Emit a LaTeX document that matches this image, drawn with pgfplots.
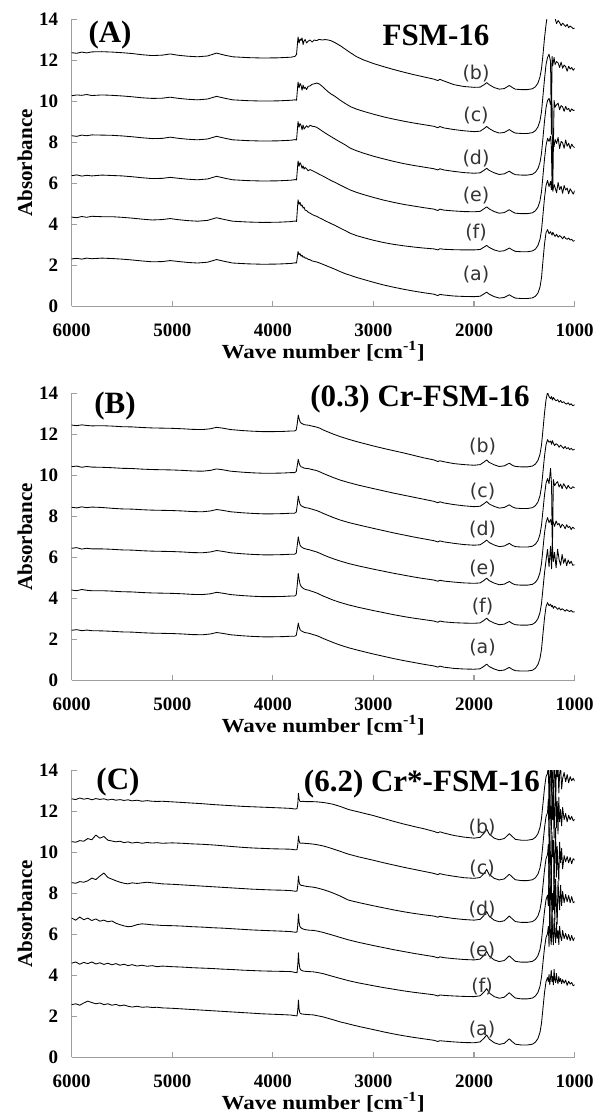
\documentclass[border=0pt]{standalone}
\usepackage{fontspec}
\setmainfont{Liberation Serif}
\newfontfamily\widefont{Liberation Serif}[FakeStretch=1.15]
\newfontfamily\curvefont{DejaVu Sans}
\usepackage{pgfplots}
\usepackage{pgfplotstable}
\pgfplotsset{compat=1.18}

% panel A: FSM-16
\pgfplotstableread{
W b c d e f a
6000 12.38 10.28 8.33 6.38 4.36 2.32
5950 12.35 10.32 8.30 6.42 4.33 2.35
5900 12.41 10.30 8.36 6.36 4.39 2.31
5850 12.37 10.34 8.33 6.40 4.35 2.36
5800 12.42 10.29 8.37 6.37 4.40 2.33
5700 12.43 10.32 8.36 6.41 4.38 2.36
5600 12.41 10.30 8.35 6.39 4.38 2.34
5500 12.38 10.27 8.32 6.37 4.35 2.31
5400 12.34 10.23 8.28 6.33 4.31 2.27
5300 12.28 10.18 8.23 6.28 4.26 2.22
5200 12.24 10.15 8.19 6.24 4.22 2.18
5100 12.26 10.16 8.20 6.25 4.24 2.19
5020 12.32 10.21 8.26 6.30 4.29 2.24
4950 12.26 10.16 8.21 6.26 4.24 2.20
4850 12.21 10.11 8.16 6.21 4.19 2.15
4750 12.18 10.08 8.13 6.18 4.16 2.12
4650 12.22 10.12 8.17 6.22 4.20 2.16
4560 12.36 10.25 8.30 6.35 4.33 2.29
4480 12.26 10.16 8.21 6.26 4.24 2.20
4400 12.18 10.08 8.13 6.18 4.16 2.12
4250 12.14 10.04 8.09 6.14 4.12 2.08
4100 12.12 10.02 8.07 6.12 4.10 2.06
3950 12.13 10.03 8.08 6.13 4.11 2.07
3820 12.16 10.06 8.11 6.16 4.14 2.10
3780 12.20 10.08 8.14 6.19 4.17 2.13
3765 12.30 10.06 8.12 6.17 4.15 2.12
3750 13.15 10.95 9.02 7.10 5.20 2.68
3740 12.85 10.66 8.75 6.84 4.98 2.52
3730 13.05 10.88 8.92 7.02 5.08 2.58
3720 12.98 10.78 8.84 6.92 4.90 2.45
3710 13.10 10.55 8.62 6.74 4.95 2.50
3700 12.78 10.80 8.85 6.86 4.80 2.40
3690 12.95 10.62 8.66 6.70 4.84 2.43
3680 13.02 10.70 8.72 6.78 4.70 2.36
3665 12.86 10.58 8.82 6.72 4.68 2.36
3650 12.94 10.74 8.74 6.62 4.60 2.30
3630 13.00 10.76 8.84 6.68 4.55 2.28
3610 12.90 10.84 8.79 6.63 4.49 2.22
3590 13.00 10.86 8.78 6.58 4.44 2.20
3565 12.97 10.90 8.74 6.52 4.40 2.17
3540 13.03 10.86 8.66 6.45 4.33 2.13
3510 13.00 10.74 8.56 6.38 4.26 2.07
3480 13.02 10.60 8.46 6.30 4.18 2.01
3450 13.00 10.47 8.37 6.22 4.11 1.95
3420 12.96 10.36 8.28 6.14 4.04 1.89
3380 12.86 10.24 8.16 6.05 3.95 1.81
3330 12.72 10.06 8.02 5.92 3.82 1.70
3280 12.55 9.90 7.88 5.80 3.70 1.60
3230 12.38 9.75 7.72 5.68 3.57 1.52
3170 12.19 9.63 7.60 5.57 3.46 1.42
3100 12.03 9.52 7.48 5.46 3.36 1.32
3000 11.85 9.38 7.33 5.32 3.23 1.18
2900 11.70 9.25 7.20 5.19 3.12 1.05
2800 11.56 9.14 7.08 5.08 3.03 0.94
2700 11.43 9.04 6.97 4.98 2.96 0.84
2600 11.31 8.95 6.88 4.90 2.90 0.75
2500 11.20 8.87 6.80 4.82 2.85 0.67
2400 11.09 8.79 6.72 4.75 2.81 0.60
2360 11.02 8.72 6.66 4.68 2.76 0.53
2340 11.08 8.78 6.72 4.75 2.82 0.59
2300 11.00 8.71 6.66 4.70 2.79 0.56
2200 10.82 8.63 6.59 4.66 2.77 0.51
2100 10.73 8.57 6.53 4.63 2.76 0.49
2000 10.69 8.53 6.50 4.62 2.76 0.48
1940 10.70 8.55 6.52 4.64 2.78 0.50
1900 10.82 8.68 6.65 4.77 2.90 0.62
1875 10.92 8.78 6.74 4.86 2.98 0.70
1850 10.82 8.68 6.64 4.76 2.88 0.60
1800 10.68 8.54 6.52 4.63 2.76 0.48
1750 10.60 8.46 6.44 4.55 2.69 0.41
1700 10.63 8.49 6.47 4.58 2.72 0.44
1650 10.78 8.63 6.60 4.72 2.85 0.57
1620 10.68 8.53 6.50 4.62 2.76 0.48
1590 10.60 8.46 6.43 4.55 2.69 0.41
1530 10.58 8.44 6.41 4.53 2.67 0.39
1470 10.58 8.44 6.41 4.53 2.67 0.39
1420 10.62 8.48 6.45 4.57 2.71 0.42
1390 10.72 8.58 6.55 4.67 2.80 0.50
1365 10.90 8.76 6.73 4.85 2.98 0.66
1345 11.20 9.06 7.03 5.15 3.28 0.95
1330 11.60 9.50 7.47 5.60 3.72 1.40
1315 12.30 10.30 8.25 6.40 4.50 2.25
1300 13.10 11.10 9.05 7.20 5.30 3.05
1285 13.75 11.80 9.70 7.85 5.90 3.60
1270 14.25 12.15 10.05 8.20 6.15 3.75
1255 14.35 12.30 10.15 8.05 5.85 3.55
1240 14.30 11.95 9.85 8.30 6.10 3.65
1232 14.20 8.40 10.10 7.80 5.70 3.55
1225 14.25 12.20 9.75 6.00 6.20 3.48
1218 14.15 11.75 5.70 8.35 5.62 3.62
1205 14.10 12.15 10.05 7.80 5.95 3.50
1195 14.05 11.80 9.72 8.15 5.80 3.42
1180 13.80 11.95 9.85 7.95 5.55 3.52
1165 13.95 11.88 9.92 8.25 6.05 3.38
1150 13.85 11.66 9.60 7.70 5.70 3.46
1135 13.70 11.92 9.80 8.05 5.86 3.40
1120 13.82 11.62 9.74 7.98 5.52 3.30
1105 13.74 11.78 9.52 7.72 5.90 3.42
1090 13.66 11.70 9.76 8.12 5.68 3.32
1075 13.76 11.48 9.60 7.82 5.78 3.28
1060 13.60 11.72 9.66 7.96 5.50 3.34
1045 13.68 11.58 9.50 7.70 5.74 3.24
1030 13.62 11.66 9.64 7.92 5.62 3.28
1015 13.55 11.52 9.56 7.80 5.48 3.18
1000 13.58 11.62 9.58 7.75 5.65 3.22
}\spectraA

% panel B: (0.3) Cr-FSM-16
\pgfplotstableread{
W b c d e f a
6000 12.46 10.43 8.45 6.45 4.41 2.45
5950 12.43 10.46 8.42 6.48 4.38 2.48
5900 12.47 10.40 8.47 6.41 4.44 2.43
5850 12.44 10.44 8.43 6.45 4.40 2.46
5800 12.42 10.41 8.46 6.42 4.38 2.43
5700 12.43 10.40 8.44 6.42 4.38 2.42
5600 12.41 10.38 8.40 6.40 4.36 2.40
5500 12.38 10.35 8.37 6.37 4.33 2.37
5400 12.37 10.34 8.36 6.36 4.32 2.36
5300 12.34 10.31 8.33 6.33 4.29 2.33
5200 12.32 10.29 8.31 6.31 4.27 2.31
5100 12.31 10.28 8.30 6.30 4.26 2.30
5000 12.30 10.27 8.29 6.29 4.25 2.29
4900 12.28 10.25 8.27 6.27 4.23 2.27
4800 12.25 10.22 8.24 6.24 4.20 2.24
4700 12.24 10.21 8.23 6.23 4.19 2.23
4620 12.28 10.25 8.27 6.27 4.23 2.27
4560 12.35 10.32 8.34 6.34 4.30 2.34
4500 12.31 10.28 8.30 6.30 4.26 2.30
4420 12.24 10.21 8.23 6.23 4.19 2.23
4300 12.19 10.16 8.18 6.18 4.14 2.18
4200 12.16 10.13 8.15 6.15 4.11 2.15
4100 12.14 10.11 8.13 6.13 4.09 2.13
4000 12.14 10.11 8.13 6.13 4.09 2.13
3900 12.15 10.12 8.14 6.14 4.10 2.14
3820 12.17 10.14 8.16 6.16 4.12 2.16
3785 12.17 10.14 8.16 6.16 4.12 2.16
3768 12.22 10.19 8.21 6.21 4.18 2.20
3757 12.55 10.50 8.58 6.62 4.70 2.50
3748 12.95 10.79 9.00 7.01 5.23 2.80
3740 12.78 10.62 8.78 6.80 4.95 2.62
3730 12.62 10.48 8.60 6.60 4.70 2.48
3718 12.55 10.42 8.52 6.52 4.58 2.42
3705 12.52 10.40 8.49 6.48 4.52 2.39
3690 12.48 10.36 8.45 6.44 4.47 2.35
3675 12.47 10.35 8.43 6.42 4.44 2.33
3660 12.46 10.34 8.42 6.40 4.42 2.32
3640 12.45 10.33 8.40 6.38 4.40 2.30
3620 12.42 10.30 8.37 6.35 4.36 2.27
3600 12.40 10.28 8.34 6.32 4.33 2.24
3565 12.36 10.24 8.29 6.27 4.27 2.19
3530 12.30 10.17 8.22 6.20 4.19 2.12
3500 12.22 10.10 8.15 6.13 4.12 2.05
3450 12.12 10.00 8.05 6.03 4.02 1.95
3400 12.02 9.90 7.95 5.94 3.92 1.85
3333 11.90 9.78 7.83 5.83 3.81 1.73
3250 11.77 9.66 7.71 5.71 3.69 1.60
3150 11.63 9.53 7.59 5.59 3.57 1.47
3000 11.44 9.36 7.42 5.43 3.41 1.29
2900 11.32 9.25 7.31 5.33 3.31 1.18
2800 11.21 9.14 7.20 5.23 3.21 1.07
2700 11.10 9.04 7.10 5.14 3.12 0.97
2600 10.98 8.94 7.00 5.05 3.04 0.88
2500 10.86 8.84 6.91 4.97 2.97 0.79
2400 10.76 8.74 6.82 4.90 2.90 0.71
2360 10.68 8.67 6.76 4.84 2.84 0.65
2340 10.72 8.72 6.81 4.89 2.90 0.70
2300 10.67 8.66 6.76 4.85 2.86 0.65
2200 10.58 8.58 6.69 4.80 2.82 0.59
2100 10.53 8.52 6.63 4.76 2.80 0.56
2000 10.50 8.48 6.60 4.74 2.79 0.55
1940 10.53 8.50 6.62 4.76 2.81 0.57
1900 10.66 8.63 6.75 4.89 2.94 0.70
1875 10.76 8.73 6.85 4.99 3.04 0.80
1850 10.64 8.61 6.73 4.87 2.92 0.68
1800 10.52 8.49 6.61 4.75 2.80 0.56
1750 10.44 8.41 6.53 4.67 2.72 0.48
1700 10.47 8.44 6.56 4.70 2.75 0.51
1650 10.60 8.57 6.69 4.83 2.88 0.64
1620 10.50 8.47 6.59 4.73 2.78 0.54
1590 10.44 8.41 6.53 4.67 2.72 0.48
1530 10.42 8.39 6.51 4.65 2.70 0.46
1470 10.42 8.39 6.51 4.65 2.70 0.46
1420 10.46 8.43 6.55 4.69 2.74 0.50
1390 10.56 8.53 6.65 4.79 2.84 0.60
1365 10.74 8.71 6.83 4.97 3.02 0.78
1345 11.04 9.01 7.13 5.27 3.32 1.08
1330 11.48 9.45 7.57 5.71 3.76 1.52
1315 12.25 10.20 8.32 6.46 4.50 2.30
1300 13.05 10.95 9.05 7.20 5.25 3.05
1285 13.70 11.50 9.62 7.70 5.85 3.60
1270 14.05 11.75 9.85 7.95 6.40 3.80
1255 13.85 11.62 9.60 7.70 5.55 3.65
1240 13.75 11.68 10.35 7.85 6.55 3.72
1230 13.85 11.52 9.55 7.60 5.45 3.60
1222 13.68 11.70 6.20 7.92 6.70 3.66
1212 13.80 11.58 9.80 7.70 5.80 3.52
1200 13.72 11.46 9.50 7.52 6.25 3.62
1185 13.64 11.55 9.62 7.78 5.50 3.56
1170 13.70 11.50 9.70 7.60 6.40 3.47
1155 13.58 11.38 9.44 7.66 5.90 3.55
1140 13.66 11.48 9.58 7.45 5.62 3.44
1125 13.55 11.40 9.36 7.62 6.15 3.50
1110 13.60 11.32 9.60 7.55 5.72 3.45
1095 13.52 11.42 9.48 7.40 5.95 3.38
1080 13.48 11.30 9.34 7.60 5.60 3.46
1065 13.55 11.36 9.52 7.46 5.88 3.40
1050 13.44 11.26 9.40 7.52 5.70 3.36
1035 13.50 11.33 9.36 7.36 5.82 3.42
1020 13.40 11.24 9.45 7.48 5.62 3.34
1000 13.45 11.28 9.40 7.40 5.65 3.35
}\spectraB

% panel C: (6.2) Cr*-FSM-16
\pgfplotstableread{
W b c d e f a
6000 12.62 10.53 8.53 6.80 4.60 2.58
5960 12.58 10.50 8.50 6.70 4.66 2.62
5920 12.66 10.58 8.58 6.85 4.55 2.55
5880 12.60 10.55 8.55 6.72 4.64 2.66
5840 12.64 10.68 8.62 6.80 4.58 2.75
5800 12.57 10.62 8.75 6.68 4.66 2.68
5760 12.63 10.85 8.68 6.76 4.56 2.62
5720 12.59 10.70 8.85 6.65 4.62 2.66
5680 12.62 10.78 9.00 6.70 4.54 2.58
5640 12.56 10.60 8.78 6.62 4.60 2.62
5600 12.60 10.56 8.70 6.66 4.52 2.55
5560 12.55 10.52 8.62 6.55 4.58 2.59
5520 12.58 10.55 8.55 6.48 4.50 2.52
5480 12.54 10.48 8.50 6.42 4.55 2.56
5440 12.57 10.52 8.47 6.38 4.48 2.50
5400 12.52 10.46 8.52 6.40 4.53 2.46
5350 12.55 10.50 8.49 6.48 4.46 2.50
5300 12.50 10.45 8.52 6.52 4.50 2.45
5250 12.53 10.49 8.55 6.50 4.45 2.47
5200 12.50 10.46 8.52 6.47 4.48 2.44
5150 12.49 10.48 8.50 6.46 4.43 2.45
5100 12.50 10.45 8.47 6.44 4.46 2.42
5000 12.47 10.47 8.45 6.43 4.43 2.40
4900 12.44 10.45 8.42 6.41 4.41 2.37
4800 12.41 10.42 8.39 6.38 4.38 2.34
4700 12.38 10.40 8.36 6.36 4.36 2.31
4600 12.34 10.37 8.33 6.33 4.34 2.28
4500 12.31 10.33 8.30 6.31 4.31 2.25
4400 12.28 10.29 8.27 6.28 4.29 2.22
4300 12.25 10.25 8.24 6.25 4.26 2.19
4200 12.23 10.22 8.21 6.22 4.24 2.16
4100 12.21 10.20 8.19 6.20 4.22 2.13
4000 12.19 10.18 8.17 6.18 4.21 2.11
3900 12.17 10.17 8.16 6.16 4.20 2.09
3820 12.15 10.16 8.14 6.14 4.19 2.07
3780 12.12 10.13 8.11 6.11 4.15 2.04
3760 12.14 10.14 8.12 6.12 4.14 2.03
3752 12.40 10.40 8.42 6.50 4.55 2.35
3746 12.89 10.80 8.85 7.00 5.11 2.80
3740 12.62 10.58 8.58 6.62 4.62 2.38
3732 12.50 10.46 8.44 6.40 4.35 2.18
3720 12.48 10.45 8.40 6.32 4.26 2.13
3705 12.50 10.46 8.39 6.28 4.23 2.12
3690 12.49 10.45 8.37 6.25 4.21 2.11
3670 12.48 10.44 8.35 6.23 4.20 2.10
3640 12.48 10.43 8.33 6.21 4.19 2.09
3600 12.48 10.41 8.31 6.20 4.18 2.08
3560 12.47 10.38 8.27 6.17 4.15 2.04
3500 12.44 10.32 8.19 6.10 4.09 1.98
3450 12.40 10.25 8.11 6.03 4.02 1.91
3400 12.35 10.17 8.02 5.96 3.95 1.84
3333 12.25 10.06 7.88 5.86 3.86 1.74
3250 12.10 9.92 7.68 5.74 3.75 1.64
3150 11.98 9.79 7.56 5.62 3.64 1.52
3000 11.80 9.62 7.40 5.46 3.50 1.36
2900 11.66 9.50 7.30 5.36 3.41 1.25
2800 11.52 9.39 7.20 5.26 3.33 1.15
2700 11.39 9.28 7.11 5.17 3.25 1.06
2600 11.27 9.18 7.03 5.08 3.18 0.98
2500 11.16 9.08 6.96 5.00 3.12 0.91
2400 11.03 8.98 6.90 4.92 3.06 0.84
2360 10.96 8.92 6.84 4.86 3.00 0.78
2340 11.01 8.97 6.89 4.91 3.05 0.82
2300 10.95 8.92 6.85 4.87 3.03 0.80
2200 10.83 8.84 6.78 4.82 3.00 0.76
2100 10.75 8.77 6.73 4.78 2.98 0.73
2000 10.70 8.74 6.70 4.76 2.97 0.72
1940 10.74 8.78 6.74 4.80 3.01 0.76
1900 10.95 8.98 6.94 5.00 3.20 0.95
1875 11.15 9.17 7.12 5.18 3.36 1.10
1850 10.90 8.93 6.89 4.95 3.15 0.90
1800 10.70 8.74 6.70 4.76 2.97 0.72
1750 10.62 8.66 6.62 4.68 2.89 0.64
1700 10.68 8.71 6.67 4.73 2.94 0.69
1650 10.92 8.94 6.90 4.96 3.16 0.91
1620 10.78 8.80 6.76 4.82 3.02 0.77
1590 10.64 8.67 6.63 4.69 2.90 0.65
1530 10.60 8.63 6.59 4.65 2.86 0.61
1470 10.60 8.63 6.59 4.65 2.86 0.61
1420 10.64 8.67 6.63 4.69 2.90 0.65
1390 10.74 8.77 6.73 4.79 3.00 0.75
1365 10.92 8.95 6.91 4.97 3.18 0.93
1345 11.22 9.25 7.21 5.27 3.48 1.23
1330 11.66 9.69 7.65 5.71 3.92 1.67
1315 12.40 10.45 8.40 6.45 4.65 2.42
1300 13.15 11.20 9.15 7.15 5.35 3.17
1285 13.70 11.75 9.70 7.70 5.85 3.70
1270 13.85 11.95 9.90 7.92 6.05 3.90
1262 14.50 12.60 10.40 7.40 6.40 3.70
1255 12.10 10.40 8.40 9.50 5.40 4.05
1248 13.60 13.50 11.20 6.40 7.10 3.55
1240 14.60 11.80 9.60 8.20 5.90 3.90
1233 12.80 10.90 8.30 9.20 5.50 4.25
1226 14.50 13.20 11.00 6.20 6.90 3.70
1219 13.40 11.60 9.80 8.00 6.00 3.95
1212 12.60 12.80 10.60 7.20 5.50 3.55
1205 14.60 10.70 8.50 9.40 6.80 4.30
1198 13.90 12.20 9.90 6.60 6.10 3.80
1190 12.40 13.30 11.20 8.70 5.60 3.65
1182 14.30 11.20 8.80 7.40 6.60 4.10
1174 13.70 12.50 10.30 6.50 5.80 3.75
1166 14.40 10.90 9.30 8.60 6.20 3.60
1158 12.90 12.70 8.60 7.90 5.50 3.95
1150 13.80 11.50 10.50 7.20 6.40 3.70
1140 14.20 12.10 9.50 8.40 5.90 3.85
1130 13.10 11.30 10.20 7.40 5.70 3.60
1120 13.60 12.20 9.20 8.10 6.20 3.80
1105 13.90 11.60 9.85 7.55 5.80 3.62
1090 13.45 11.90 9.55 7.95 6.05 3.78
1075 13.80 11.50 9.80 7.60 5.75 3.52
1060 13.40 11.82 9.50 7.90 6.00 3.72
1045 13.70 11.60 9.76 7.55 5.70 3.58
1030 13.50 11.76 9.45 7.85 5.95 3.66
1015 13.62 11.55 9.70 7.55 5.70 3.50
1000 13.48 11.62 9.62 7.60 5.85 3.55
}\spectraC

\pgfplotsset{
  irpanel/.style={
    scale only axis, width=503pt, height=287pt,
    anchor=south west,
    xmin=1000, xmax=6000, ymin=0, ymax=14,
    x dir=reverse,
    clip mode=individual,
    axis lines=left,
    axis line style={-, draw=black!38, line width=1.4pt},
    xtick={1000,2000,...,6000}, ytick={0,2,...,14},
    tick align=inside, major tick length=5pt,
    tick style={draw=black!38, line width=1.2pt},
    /pgf/number format/assume math mode=true,
    /pgf/number format/1000 sep={},
    ticklabel style={font=\fontsize{19}{20}\selectfont\bfseries},
    xticklabel style={yshift=-14pt},
    yticklabel style={xshift=-10pt},
    xlabel={Wave number [cm\textsuperscript{-1}]},
    ylabel={Absorbance},
    xlabel style={at={(axis description cs:0.5,-0.155)}, anchor=center,
      font=\widefont\fontsize{20}{22}\selectfont\bfseries},
    ylabel style={at={(axis description cs:-0.093,0.5)}, anchor=center,
      font=\fontsize{21}{22}\selectfont\bfseries},
  },
}
\tikzset{
  spec/.style={black, line width=0.85pt, line join=round, mark=none},
  curvelab/.style={font=\curvefont\fontsize{19}{20}\selectfont, text=black!80, inner sep=0pt},
  paneltitle/.style={font=\fontsize{31}{32}\selectfont\bfseries, inner sep=0pt},
}

\begin{document}
\begin{tikzpicture}
\path[use as bounding box] (0pt,0pt) rectangle (596pt,1115pt);

% (A)
\begin{axis}[irpanel, at={(71.7pt,808.5pt)}]
\addplot[spec] table[x=W,y=b] {\spectraA};
\addplot[spec] table[x=W,y=c] {\spectraA};
\addplot[spec] table[x=W,y=d] {\spectraA};
\addplot[spec] table[x=W,y=e] {\spectraA};
\addplot[spec] table[x=W,y=f] {\spectraA};
\addplot[spec] table[x=W,y=a] {\spectraA};
\node[paneltitle] at (axis cs:5619,13.24) {(A)};
\node[paneltitle] at (axis cs:2378,13.24) {FSM-16};
\node[curvelab] at (axis cs:1981,11.34) {(b)};
\node[curvelab] at (axis cs:1981,9.29) {(c)};
\node[curvelab] at (axis cs:1981,7.24) {(d)};
\node[curvelab] at (axis cs:1981,5.39) {(e)};
\node[curvelab] at (axis cs:1981,3.59) {(f)};
\node[curvelab] at (axis cs:1981,1.54) {(a)};
\end{axis}

% (B)
\begin{axis}[irpanel, at={(71.7pt,434.5pt)}]
\addplot[spec] table[x=W,y=b] {\spectraB};
\addplot[spec] table[x=W,y=c] {\spectraB};
\addplot[spec] table[x=W,y=d] {\spectraB};
\addplot[spec] table[x=W,y=e] {\spectraB};
\addplot[spec] table[x=W,y=f] {\spectraB};
\addplot[spec] table[x=W,y=a] {\spectraB};
\node[paneltitle] at (axis cs:5569,13.39) {(B)};
\node[paneltitle] at (axis cs:2538,13.73) {(0.3) Cr-FSM-16};
\node[curvelab] at (axis cs:1916,11.39) {(b)};
\node[curvelab] at (axis cs:1916,9.20) {(c)};
\node[curvelab] at (axis cs:1916,7.34) {(d)};
\node[curvelab] at (axis cs:1916,5.44) {(e)};
\node[curvelab] at (axis cs:1916,3.59) {(f)};
\node[curvelab] at (axis cs:1916,1.63) {(a)};
\end{axis}

% (C)
\begin{axis}[irpanel, at={(71.7pt,57.5pt)}]
\addplot[spec] table[x=W,y=b] {\spectraC};
\addplot[spec] table[x=W,y=c] {\spectraC};
\addplot[spec] table[x=W,y=d] {\spectraC};
\addplot[spec] table[x=W,y=e] {\spectraC};
\addplot[spec] table[x=W,y=f] {\spectraC};
\addplot[spec] table[x=W,y=a] {\spectraC};
\node[paneltitle] at (axis cs:5540,13.44) {(C)};
\node[paneltitle] at (axis cs:2519,13.34) {(6.2) Cr*-FSM-16};
\node[curvelab] at (axis cs:1921,11.20) {(b)};
\node[curvelab] at (axis cs:1921,9.24) {(c)};
\node[curvelab] at (axis cs:1921,7.20) {(d)};
\node[curvelab] at (axis cs:1921,5.24) {(e)};
\node[curvelab] at (axis cs:1921,3.44) {(f)};
\node[curvelab] at (axis cs:1921,1.34) {(a)};
\end{axis}
\end{tikzpicture}
\end{document}
